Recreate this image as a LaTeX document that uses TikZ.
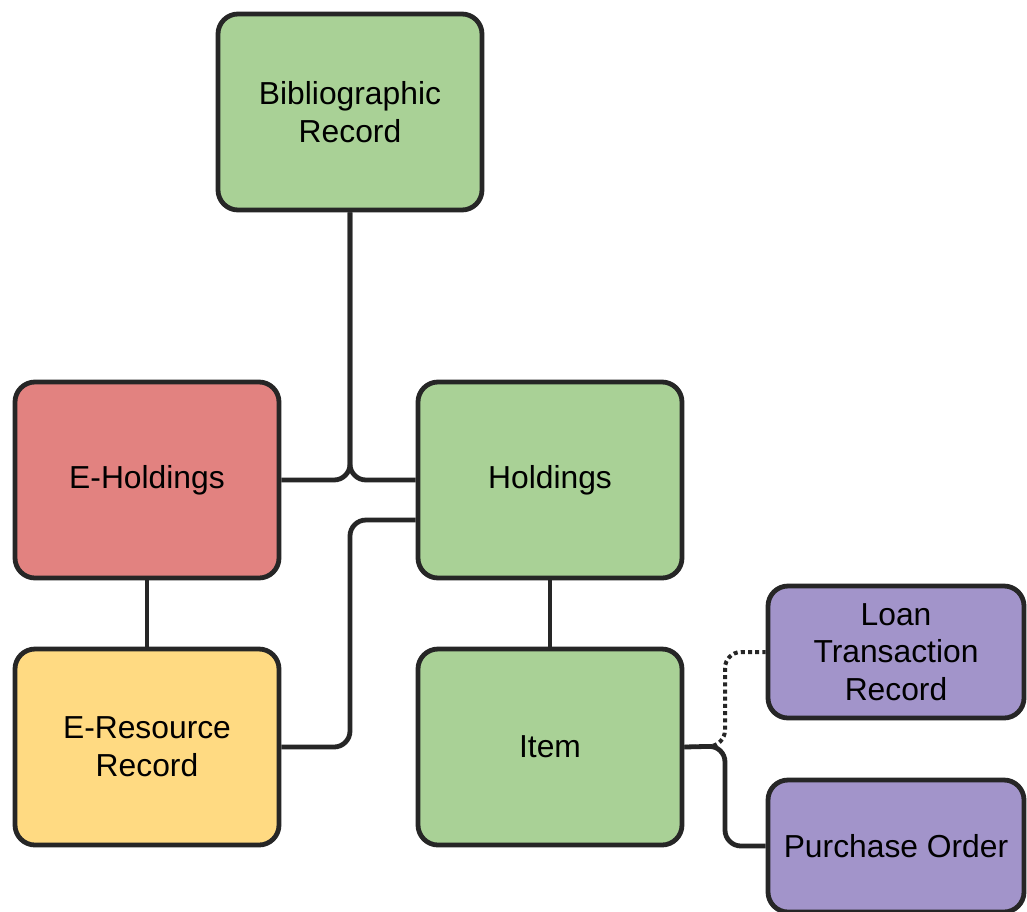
\documentclass[tikz,border=0pt]{standalone}
\usepackage{fontspec}
\setmainfont{Liberation Sans}
\definecolor{boxline}{RGB}{38,38,38}
\definecolor{boxgreen}{RGB}{169,209,150}
\definecolor{boxred}{RGB}{226,130,128}
\definecolor{boxyellow}{RGB}{255,218,130}
\definecolor{boxpurple}{RGB}{162,148,202}
\begin{document}
\begin{tikzpicture}[x=0.5pt, y=-0.5pt, line width=2.4pt,
        every node/.style={align=center, font=\fontsize{15.9}{18.8}\selectfont},
        box/.style={draw=boxline, rounded corners=10pt, minimum width=132pt, minimum height=98pt, inner sep=0pt},
        smallbox/.style={box, minimum width=128pt, minimum height=66pt},
        link/.style={draw=boxline, rounded corners=8pt}]

        \useasboundingbox (0,0) rectangle (1027,911);

        % Record principali
        \node[box, fill=boxgreen] (bib) at (350,112) {Bibliographic\\Record};
        \node[box, fill=boxred] (eholdings) at (147,480) {E-Holdings};
        \node[box, fill=boxgreen] (holdings) at (550,480) {Holdings};
        \node[box, fill=boxyellow] (eresource) at (147,747) {E-Resource\\Record};
        \node[box, fill=boxgreen] (item) at (550,747) {Item};

        % Record collegati all'item
        \node[smallbox, fill=boxpurple] (loan) at (896,652) {Loan\\Transaction\\Record};
        \node[smallbox, fill=boxpurple] (order) at (896,846) {Purchase Order};

        \coordinate (fork) at (725,746);

        % Collegamenti
        \draw[link] (bib.south) |- (eholdings.east);
        \draw[link] (bib.south) |- (holdings.west);
        \draw[link] ([yshift=-20pt]holdings.west) -| (bib.south |- eresource.east) -- (eresource.east);
        \draw[link] (eholdings.south) -- (eresource.north);
        \draw[link] (holdings.south) -- (item.north);
        \draw[link] (item.east) -- (fork) |- (order.west);
        \draw[link, line width=2pt, dash pattern=on 2pt off 1.6pt] (item.east) -- (fork) |- (loan.west);

\end{tikzpicture}
\end{document}
